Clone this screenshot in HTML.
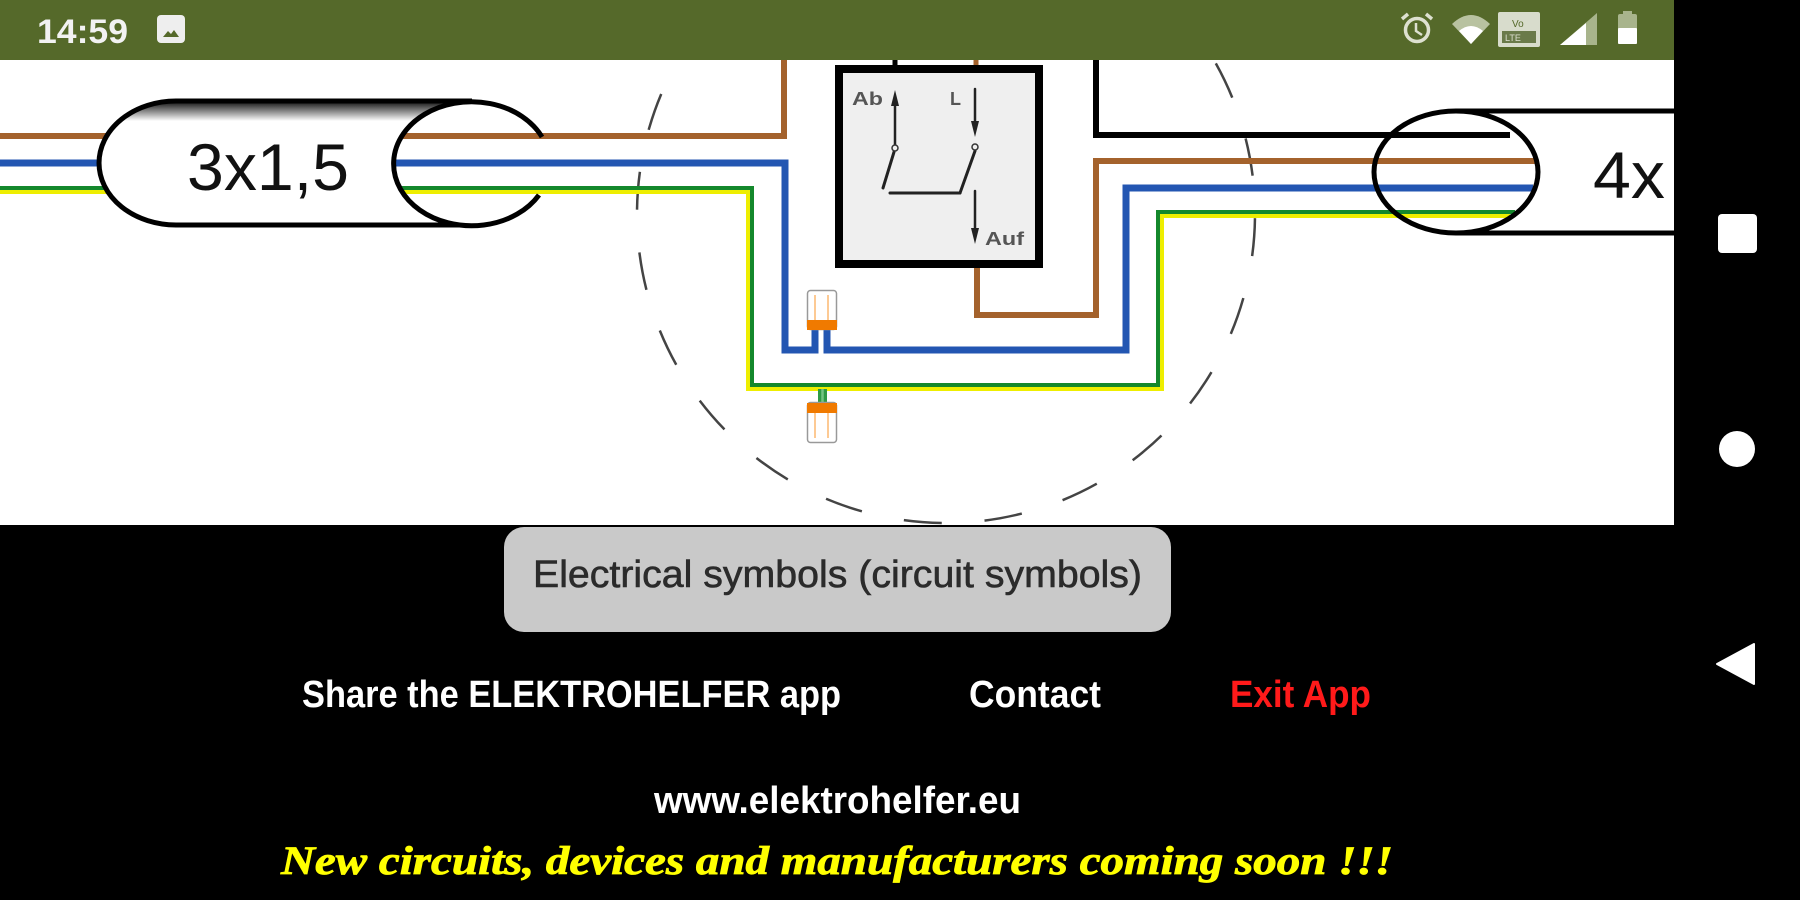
<!DOCTYPE html>
<html>
<head>
<meta charset="utf-8">
<style>
html,body{margin:0;padding:0;background:#000;}
body{width:1800px;height:900px;overflow:hidden;}
svg{display:block;}
</style>
</head>
<body>
<svg width="1800" height="900" viewBox="0 0 1800 900" xmlns="http://www.w3.org/2000/svg">
<defs>
<linearGradient id="sh" x1="0" y1="0" x2="0" y2="1">
<stop offset="0" stop-color="#000" stop-opacity="0.95"/>
<stop offset="1" stop-color="#000" stop-opacity="0"/>
</linearGradient>
<clipPath id="bodyclip"><path d="M 472 101 L 176 101 A 77 62 0 0 0 176 225 L 472 225 Z"/></clipPath>
</defs>

<!-- backgrounds -->
<rect width="1800" height="900" fill="#000"/>
<rect x="0" y="60" width="1674" height="465" fill="#fff"/>

<!-- dashed circle -->
<circle cx="946" cy="214" r="309" fill="none" stroke="#444" stroke-width="2.5" stroke-dasharray="38 42.9" stroke-dashoffset="-4.2"/>

<!-- right cable body + ellipse fill -->
<rect x="1456" y="111" width="218" height="122" fill="#fff"/>
<line x1="1456" y1="111" x2="1674" y2="111" stroke="#000" stroke-width="5"/>
<line x1="1456" y1="233" x2="1674" y2="233" stroke="#000" stroke-width="5"/>
<ellipse cx="1456" cy="172" rx="82" ry="61" fill="#fff"/>

<!-- wires -->
<g fill="none" stroke-linejoin="miter" stroke-linecap="butt">
<polyline points="0,136 784,136 784,55" stroke="#a4622c" stroke-width="6"/>
<polyline points="0,163 785,163 785,350 815,350 815,326" stroke="#2356b2" stroke-width="7"/>
<polyline points="827,326 827,350 1126,350 1126,188 1533,188" stroke="#2356b2" stroke-width="7"/>
<polyline points="0,192 748,192 748,389 1162,389 1162,216 1510,216" stroke="#eeee00" stroke-width="4"/>
<polyline points="0,188 752,188 752,385 1158,385 1158,212 1515,212" stroke="#14882c" stroke-width="4"/>
<polyline points="977,264 977,315 1096,315 1096,161 1535,161" stroke="#a4622c" stroke-width="6"/>
<line x1="976" y1="55" x2="976" y2="68" stroke="#a4622c" stroke-width="5"/>
<polyline points="1096,55 1096,135 1510,135" stroke="#000" stroke-width="6"/>
<line x1="895" y1="55" x2="895" y2="68" stroke="#000" stroke-width="5"/>
</g>

<!-- green stem -->
<rect x="818" y="389" width="9" height="15" fill="#2e9a45"/>
<line x1="822.5" y1="389" x2="822.5" y2="403" stroke="#74c484" stroke-width="2.5"/>

<!-- left cable -->
<path d="M 472 101 L 176 101 A 77 62 0 0 0 176 225 L 472 225 Z" fill="#fff"/>
<rect x="100" y="101" width="372" height="20" fill="url(#sh)" clip-path="url(#bodyclip)"/>
<path d="M 472 101 L 176 101 A 77 62 0 0 0 176 225 L 472 225" fill="none" stroke="#000" stroke-width="5"/>
<ellipse cx="472" cy="163" rx="78" ry="62" fill="#fff"/>
<g fill="none">
<line x1="403" y1="136" x2="560" y2="136" stroke="#a4622c" stroke-width="6"/>
<line x1="394" y1="163" x2="560" y2="163" stroke="#2356b2" stroke-width="7"/>
<line x1="401" y1="192" x2="560" y2="192" stroke="#eeee00" stroke-width="4"/>
<line x1="401" y1="188" x2="560" y2="188" stroke="#14882c" stroke-width="4"/>
</g>
<path d="M 542 137 A 78 62 0 1 0 539 195" fill="none" stroke="#000" stroke-width="5"/>
<text x="187" y="190" font-family="'Liberation Sans', sans-serif" font-size="66" fill="#111" textLength="162" lengthAdjust="spacingAndGlyphs">3x1,5</text>

<!-- right ellipse stroke + text -->
<ellipse cx="1456" cy="172" rx="82" ry="61" fill="none" stroke="#000" stroke-width="5"/>
<text x="1593" y="198" font-family="'Liberation Sans', sans-serif" font-size="66" fill="#111" textLength="72" lengthAdjust="spacingAndGlyphs">4x</text>

<!-- switch box -->
<rect x="839" y="69" width="200" height="195" fill="#efefef" stroke="#000" stroke-width="8"/>
<g stroke="#222" fill="none" stroke-linecap="round">
<line x1="895" y1="146" x2="895" y2="104" stroke-width="2.5"/>
<line x1="894" y1="152" x2="883" y2="188" stroke-width="3"/>
<line x1="890" y1="193" x2="960" y2="193" stroke-width="3"/>
<line x1="960" y1="193" x2="975" y2="151" stroke-width="3"/>
<line x1="975" y1="89" x2="975" y2="124" stroke-width="2.5"/>
<line x1="975" y1="191" x2="975" y2="230" stroke-width="2.5"/>
</g>
<polygon points="895,90 891,106 899,106" fill="#222"/>
<polygon points="975,137 971,121 979,121" fill="#222"/>
<polygon points="975,244 971,228 979,228" fill="#222"/>
<circle cx="895" cy="148" r="3" fill="#efefef" stroke="#333" stroke-width="1.5"/>
<circle cx="975" cy="147" r="3" fill="#efefef" stroke="#333" stroke-width="1.5"/>
<text x="852" y="105" font-family="'Liberation Sans', sans-serif" font-size="18" font-weight="bold" fill="#555" textLength="31" lengthAdjust="spacingAndGlyphs">Ab</text>
<text x="950" y="105" font-family="'Liberation Sans', sans-serif" font-size="18" font-weight="bold" fill="#555">L</text>
<text x="985" y="245" font-family="'Liberation Sans', sans-serif" font-size="18" font-weight="bold" fill="#555" textLength="39" lengthAdjust="spacingAndGlyphs">Auf</text>

<!-- connectors -->
<rect x="807.5" y="290.5" width="29" height="39" rx="3" fill="#fff" stroke="#999" stroke-width="1.5"/>
<line x1="815" y1="295" x2="815" y2="320" stroke="#fcb870" stroke-width="1.5"/>
<line x1="828" y1="295" x2="828" y2="320" stroke="#fcb870" stroke-width="1.5"/>
<rect x="807" y="320" width="30" height="10" fill="#f07a00"/>

<rect x="807.5" y="402.5" width="29" height="40" rx="3" fill="#fff" stroke="#999" stroke-width="1.5"/>
<line x1="815" y1="413" x2="815" y2="438" stroke="#fcb870" stroke-width="1.5"/>
<line x1="828" y1="413" x2="828" y2="438" stroke="#fcb870" stroke-width="1.5"/>
<rect x="807" y="403" width="30" height="10" fill="#f07a00"/>

<!-- status bar -->
<rect x="0" y="0" width="1674" height="60" fill="#55692a"/>
<text x="37" y="43" font-family="'Liberation Sans', sans-serif" font-size="34" font-weight="bold" fill="#f2f2f2" textLength="91" lengthAdjust="spacingAndGlyphs">14:59</text>
<rect x="157" y="15" width="28" height="28" rx="4" fill="#eeeeee"/>
<polygon points="163,37 168,31 171,34 174,30 179,37" fill="#55692a"/>

<!-- alarm -->
<circle cx="1417" cy="30" r="11.5" fill="none" stroke="#dde0d0" stroke-width="3.5"/>
<line x1="1402" y1="19" x2="1408" y2="14" stroke="#dde0d0" stroke-width="3.5"/>
<line x1="1432" y1="19" x2="1426" y2="14" stroke="#dde0d0" stroke-width="3.5"/>
<polyline points="1416,23 1416,31 1422,35" fill="none" stroke="#dde0d0" stroke-width="2.5"/>
<!-- wifi -->
<path d="M 1452 24 Q 1471 6 1490 24 L 1471 44 Z" fill="#b8c2a0"/>
<path d="M 1459 31 Q 1471 21 1483 31 L 1471 44 Z" fill="#ffffff"/>
<!-- volte box -->
<rect x="1498" y="12" width="42" height="35" rx="2" fill="#d8dccc"/>
<rect x="1502" y="31" width="34" height="12" fill="#6a7a4a"/>
<text x="1512" y="27" font-family="'Liberation Sans', sans-serif" font-size="10" fill="#55692a">Vo</text>
<text x="1505" y="41" font-family="'Liberation Sans', sans-serif" font-size="9" fill="#dde0d0">LTE</text>
<!-- signal -->
<polygon points="1560,45 1597,13 1597,45" fill="#a8b48c"/>
<polygon points="1560,45 1586,23 1586,45" fill="#ffffff"/>
<!-- battery -->
<rect x="1623" y="11" width="9" height="5" fill="#a8b48c"/>
<rect x="1618" y="14" width="19" height="30" rx="2" fill="#a8b48c"/>
<rect x="1618" y="28" width="19" height="16" rx="1" fill="#ffffff"/>

<!-- nav bar -->
<rect x="1674" y="0" width="126" height="900" fill="#000"/>
<rect x="1718" y="214" width="39" height="39" rx="4" fill="#fff"/>
<circle cx="1737" cy="449" r="18" fill="#fff"/>
<polygon points="1717,664 1754,644 1754,684" fill="#fff" stroke="#fff" stroke-width="2" stroke-linejoin="round"/>

<!-- bottom button -->
<rect x="504" y="527" width="667" height="105" rx="20" fill="#c9c9c9"/>
<text x="533" y="587" font-family="'Liberation Sans', sans-serif" font-size="38" fill="#2b2b2b" stroke="#2b2b2b" stroke-width="0.6" textLength="609" lengthAdjust="spacingAndGlyphs">Electrical symbols (circuit symbols)</text>

<!-- links -->
<text x="302" y="707" font-family="'Liberation Sans', sans-serif" font-size="38" font-weight="bold" fill="#fff" textLength="539" lengthAdjust="spacingAndGlyphs">Share the ELEKTROHELFER app</text>
<text x="969" y="707" font-family="'Liberation Sans', sans-serif" font-size="38" font-weight="bold" fill="#fff" textLength="132" lengthAdjust="spacingAndGlyphs">Contact</text>
<text x="1230" y="707" font-family="'Liberation Sans', sans-serif" font-size="38" font-weight="bold" fill="#ff1a1a" textLength="141" lengthAdjust="spacingAndGlyphs">Exit App</text>

<text x="654" y="813" font-family="'Liberation Sans', sans-serif" font-size="38" font-weight="bold" fill="#fff" textLength="367" lengthAdjust="spacingAndGlyphs">www.elektrohelfer.eu</text>

<text x="281" y="874" font-family="'Liberation Serif', serif" font-size="40" font-weight="bold" font-style="italic" fill="#ffff00" stroke="#ffff00" stroke-width="0.8" textLength="1112" lengthAdjust="spacingAndGlyphs">New circuits, devices and manufacturers coming soon !!!</text>
</svg>
</body>
</html>
